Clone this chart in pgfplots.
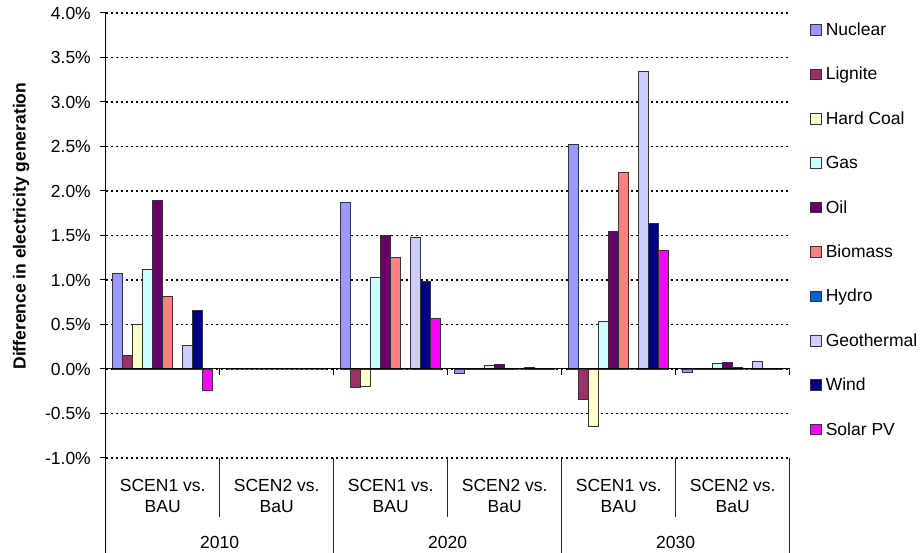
\documentclass[border=0pt]{standalone}
\usepackage{pgfplots}
\pgfplotsset{compat=1.18}
\usepackage{pgfplotstable}
\usepackage{fontspec}
\setmainfont{Liberation Sans}

\newcommand{\chartfont}{\fontsize{17.5}{21}\selectfont}

\definecolor{cNuc}{HTML}{9999FF}
\definecolor{cLig}{HTML}{993366}
\definecolor{cHC}{HTML}{FFFFCC}
\definecolor{cGas}{HTML}{CCFFFF}
\definecolor{cOil}{HTML}{660066}
\definecolor{cBio}{HTML}{FF8080}
\definecolor{cHyd}{HTML}{0066CC}
\definecolor{cGeo}{HTML}{CCCCFF}
\definecolor{cWind}{HTML}{000080}
\definecolor{cSol}{HTML}{FF00FF}

% x: 0 2010 SCEN1, 1 2010 SCEN2, 2 2020 SCEN1, 3 2020 SCEN2, 4 2030 SCEN1, 5 2030 SCEN2
\pgfplotstableread{
x nuc   lig    hc     gas   oil   bio   hyd   geo   wind  sol
0 1.07  0.15   0.50   1.12  1.89  0.82  -0.01 0.26  0.66  -0.24
1 0     0      0      0     0     0     0     0     0     0
2 1.87  -0.21  -0.19  1.03  1.50  1.25  0     1.48  0.98  0.57
3 -0.05 0.005  0.005  0.04  0.05  -0.01 0     0.02  0.005 -0.01
4 2.52  -0.34  -0.65  0.54  1.55  2.21  0     3.34  1.64  1.33
5 -0.04 0.005  0.005  0.06  0.07  0.02  0     0.09  0.01  0.005
}\gen

\begin{document}
\begin{tikzpicture}
\path[use as bounding box] (-105.7pt,-95pt) rectangle (814.3pt,458pt);
\begin{axis}[
    at={(0,0)}, anchor=south west,
    scale only axis,
    width=684pt, height=445pt,
    xmin=-0.5, xmax=5.5,
    ymin=-1, ymax=4,
    ybar=0pt,
    bar width=10pt,
    axis y line*=left,
    axis x line=none,
    xtick=\empty,
    ytick={-1,-0.5,0,0.5,1,1.5,2,2.5,3,3.5,4},
    yticklabels={-1.0\%,-0.5\%,0.0\%,0.5\%,1.0\%,1.5\%,2.0\%,2.5\%,3.0\%,3.5\%,4.0\%},
    yticklabel style={font=\chartfont, inner sep=0pt, anchor=east, xshift=-8.7pt},
    tick align=outside,
    major tick length=6pt,
    tick style={black, line width=1pt},
    axis line style={black, line width=1pt},
    ymajorgrids,
    major grid style={black, line width=1.3pt, dash pattern=on 2pt off 3pt},
    ylabel={Difference in electricity generation},
    ylabel style={font=\chartfont\bfseries, at={(axis description cs:-0.1238,0.521)}, anchor=center},
    clip=false,
    every axis plot/.append style={draw=black!80, line width=0.8pt},
    legend image code/.code={\draw[#1] (0pt,-5.35pt) rectangle (10.7pt,5.35pt);},
    legend style={draw=none, fill=none, inner sep=0pt, outer sep=0pt,
        at={(1.0297,0.9778)}, anchor=north west, font=\chartfont,
        row sep=30.3pt,
        nodes={inner sep=0pt},
        /tikz/every odd column/.append style={column sep=4.3pt},
        /tikz/every even column/.append style={text height=12.6pt, text depth=3.7pt}},
    legend cell align=left,
]
\addplot[fill=cNuc] table[x=x, y=nuc] {\gen};
\addplot[fill=cLig] table[x=x, y=lig] {\gen};
\addplot[fill=cHC] table[x=x, y=hc] {\gen};
\addplot[fill=cGas] table[x=x, y=gas] {\gen};
\addplot[fill=cOil] table[x=x, y=oil] {\gen};
\addplot[fill=cBio] table[x=x, y=bio] {\gen};
\addplot[fill=cHyd] table[x=x, y=hyd] {\gen};
\addplot[fill=cGeo] table[x=x, y=geo] {\gen};
\addplot[fill=cWind] table[x=x, y=wind] {\gen};
\addplot[fill=cSol] table[x=x, y=sol] {\gen};
\legend{Nuclear, Lignite, Hard Coal, Gas, Oil, Biomass, Hydro, Geothermal, Wind, Solar PV}

% category axis at zero with ticks
\draw[black, line width=1pt] (axis cs:-0.5,0) -- (axis cs:5.5,0);
\pgfplotsinvokeforeach{0.5,1.5,2.5,3.5,4.5,5.5}{
  \draw[black, line width=1pt] (axis cs:#1,0) -- ++(0pt,-6pt);
}
% label table below
\draw[black, line width=1pt] (axis cs:-0.5,-1) -- ++(0pt,-95pt);
\pgfplotsinvokeforeach{1.5,3.5,5.5}{
  \draw[black!85, line width=1pt] (axis cs:#1,-1) -- ++(0pt,-95pt);
}
\pgfplotsinvokeforeach{0.5,2.5,4.5}{
  \draw[black!85, line width=1pt] (axis cs:#1,-1) -- ++(0pt,-59pt);
}
\pgfplotsinvokeforeach{0,2,4}{
  \node[font=\chartfont, anchor=base, inner sep=0pt] at ([yshift=-33.3pt]axis cs:#1,-1) {SCEN1 vs.};
  \node[font=\chartfont, anchor=base, inner sep=0pt] at ([yshift=-54.3pt]axis cs:#1,-1) {BAU};
}
\pgfplotsinvokeforeach{1,3,5}{
  \node[font=\chartfont, anchor=base, inner sep=0pt] at ([yshift=-33.3pt]axis cs:#1,-1) {SCEN2 vs.};
  \node[font=\chartfont, anchor=base, inner sep=0pt] at ([yshift=-54.3pt]axis cs:#1,-1) {BaU};
}
\node[font=\chartfont, anchor=base, inner sep=0pt] at ([yshift=-90.3pt]axis cs:0.5,-1) {2010};
\node[font=\chartfont, anchor=base, inner sep=0pt] at ([yshift=-90.3pt]axis cs:2.5,-1) {2020};
\node[font=\chartfont, anchor=base, inner sep=0pt] at ([yshift=-90.3pt]axis cs:4.5,-1) {2030};
\end{axis}
\end{tikzpicture}
\end{document}
